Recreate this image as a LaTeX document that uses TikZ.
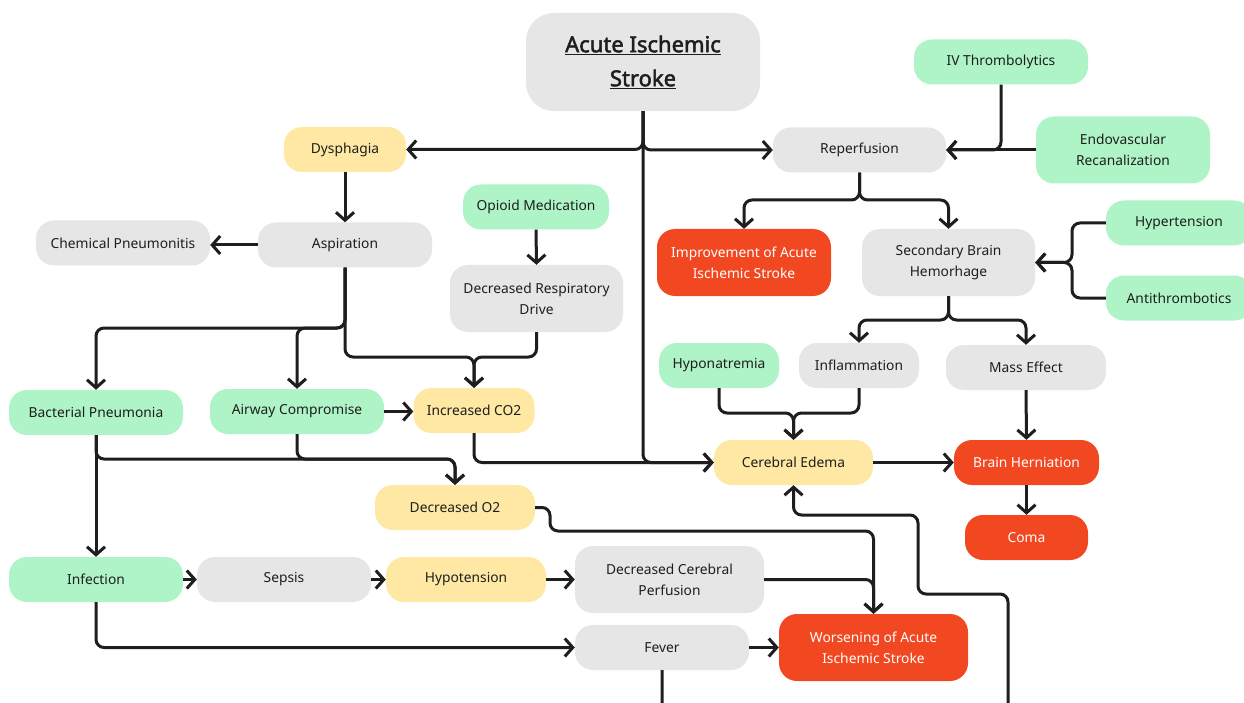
\documentclass[tikz,border=0pt]{standalone}
\usepackage{fontspec}
\setmainfont{Noto Sans}[AutoFakeBold=2.2]
\usetikzlibrary{arrows.meta}
\definecolor{cgray}{HTML}{E6E6E6}
\definecolor{cgreen}{HTML}{AFF4C6}
\definecolor{cyellow}{HTML}{FFE8A3}
\definecolor{cred}{HTML}{F24822}
\definecolor{ink}{HTML}{1E1E1E}
\tikzset{
  box/.style={rounded corners=18pt, inner sep=0pt, align=center, text=ink,
    font=\fontsize{13.8}{21}\selectfont},
  gbox/.style={box, fill=cgray},
  grbox/.style={box, fill=cgreen},
  ybox/.style={box, fill=cyellow},
  rbox/.style={box, fill=cred, text=white},
  arr/.style={draw=ink, line width=3pt, rounded corners=8pt,
    -{Straight Barb[length=8pt,width=18pt,line width=3pt]}},
}
\newcommand{\ulin}[1]{\underline{#1}}
\begin{document}
\begin{tikzpicture}[x=1pt,y=-1pt]
\clip (0,0) rectangle (1244,703);
\fill[white] (0,0) rectangle (1244,703);
% nodes
\node[gbox, rounded corners=28pt, minimum width=234pt, minimum height=98pt,
  font=\fontsize{22}{34}\selectfont\bfseries] (title) at (643,62)
  {\ulin{Acute Ischemic}\\\ulin{Stroke}};
\node[ybox, minimum width=122pt, minimum height=45pt] (dys) at (345,149.5) {Dysphagia};
\node[gbox, minimum width=173pt, minimum height=45pt] (rep) at (859.5,150) {Reperfusion};
\node[grbox, minimum width=174pt, minimum height=45pt] (ivt) at (1001,62) {IV Thrombolytics};
\node[grbox, minimum width=174pt, minimum height=67pt] (endo) at (1123,150) {Endovascular\\Recanalization};
\node[gbox, minimum width=174pt, minimum height=45pt] (chem) at (123,243) {Chemical Pneumonitis};
\node[gbox, minimum width=174pt, minimum height=45pt] (asp) at (345,245) {Aspiration};
\node[grbox, minimum width=146pt, minimum height=45pt] (opi) at (536,207) {Opioid Medication};
\node[gbox, minimum width=173pt, minimum height=67pt] (resp) at (536.5,298.5) {Decreased Respiratory\\Drive};
\node[rbox, minimum width=174pt, minimum height=67pt] (imp) at (744,262.5) {Improvement of Acute\\Ischemic Stroke};
\node[gbox, minimum width=173pt, minimum height=67pt] (sbh) at (948.5,262.5) {Secondary Brain\\Hemorhage};
\node[grbox, minimum width=146pt, minimum height=45pt] (hyp) at (1179,223) {Hypertension};
\node[grbox, minimum width=146pt, minimum height=45pt] (anti) at (1179,298) {Antithrombotics};
\node[grbox, minimum width=120pt, minimum height=45pt] (hypo) at (719,365.5) {Hyponatremia};
\node[gbox, minimum width=120pt, minimum height=45pt] (infl) at (859,365.5) {Inflammation};
\node[gbox, minimum width=160pt, minimum height=45pt] (mass) at (1026,367.5) {Mass Effect};
\node[grbox, minimum width=174pt, minimum height=45pt] (bact) at (96,412.5) {Bacterial Pneumonia};
\node[grbox, minimum width=174pt, minimum height=45pt] (air) at (297,411.5) {Airway Compromise};
\node[ybox, minimum width=121pt, minimum height=45pt] (co2) at (474,410.5) {Increased CO2};
\node[ybox, minimum width=159pt, minimum height=45pt] (ede) at (793.5,462.5) {Cerebral Edema};
\node[rbox, minimum width=145pt, minimum height=45pt] (hern) at (1026.5,462.5) {Brain Herniation};
\node[rbox, minimum width=123pt, minimum height=45pt] (coma) at (1026.5,537.5) {Coma};
\node[ybox, minimum width=160pt, minimum height=45pt] (o2) at (455,507.5) {Decreased O2};
\node[grbox, minimum width=174pt, minimum height=45pt] (inf) at (96,579.5) {Infection};
\node[gbox, minimum width=174pt, minimum height=45pt] (sep) at (284,579.5) {Sepsis};
\node[ybox, minimum width=160pt, minimum height=45pt] (hypot) at (466,579.5) {Hypotension};
\node[gbox, minimum width=189pt, minimum height=67pt] (dcp) at (669.5,579.5) {Decreased Cerebral\\Perfusion};
\node[gbox, minimum width=174pt, minimum height=45pt] (fev) at (662,647.5) {Fever};
\node[rbox, minimum width=189pt, minimum height=67pt] (wor) at (873.5,647.5) {Worsening of Acute\\Ischemic Stroke};
% junction coordinates
\coordinate (jA) at (345,328);
\coordinate (jC) at (345,357);
\coordinate (jR) at (536.5,357);
\coordinate (jRep) at (859.5,200);
\coordinate (jH) at (1072,262.5);
\coordinate (jS) at (948.5,320);
\coordinate (jHy) at (719,413);
\coordinate (jIn) at (859,413);
\coordinate (jB) at (96,459);
\coordinate (jAir) at (297,459);
\coordinate (jO1) at (550,507.5);
\coordinate (jO2) at (550,531);
\coordinate (f1) at (662,730);
\coordinate (f2) at (1008,730);
\coordinate (f3) at (1008,594);
\coordinate (f4) at (918,594);
\coordinate (f5) at (918,515);
\coordinate (f6) at (793.5,515);
% edges
\draw[arr] (title.south) |- (dys.east);
\draw[arr] (title.south) |- (rep.west);
\draw[arr] (title.south) |- (ede.west);
\draw[arr] (ivt.south) |- (rep.east);
\draw[arr] (endo.west) -- (rep.east);
\draw[arr] (dys.south) -- (asp.north);
\draw[arr] (asp.west) -- (chem.east |- asp.west);
\draw[arr] (asp.south) -- (jA) -| (bact.north);
\draw[arr] (asp.south) -- (jA) -| (air.north);
\draw[arr] (asp.south) -- (jC) -| (co2.north);
\draw[arr] (opi.south) -- (resp.north);
\draw[arr] (resp.south) -- (jR) -| (co2.north);
\draw[arr] (rep.south) -- (jRep) -| (imp.north);
\draw[arr] (rep.south) -- (jRep) -| (sbh.north);
\draw[arr] (hyp.west) -| (jH) -- (sbh.east);
\draw[arr] (anti.west) -| (jH) -- (sbh.east);
\draw[arr] (sbh.south) -- (jS) -| (infl.north);
\draw[arr] (sbh.south) -- (jS) -| (mass.north);
\draw[arr] (hypo.south) -- (jHy) -| (ede.north);
\draw[arr] (infl.south) -- (jIn) -| (ede.north);
\draw[arr] (mass.south) -- (hern.north);
\draw[arr] (ede.east) -- (hern.west);
\draw[arr] (hern.south) -- (coma.north);
\draw[arr] (air.east) -- (co2.west |- air.east);
\draw[arr] (co2.south) |- (ede.west);
\draw[arr] (bact.south) -- (jB) -| (o2.north);
\draw[arr] (air.south) -- (jAir) -| (o2.north);
\draw[arr] (bact.south) -- (inf.north);
\draw[arr] (o2.east) -- (jO1) -- (jO2) -| (wor.north);
\draw[arr] (dcp.east) -| (wor.north);
\draw[arr] (inf.east) -- (sep.west);
\draw[arr] (sep.east) -- (hypot.west);
\draw[arr] (hypot.east) -- (dcp.west);
\draw[arr] (inf.south) |- (fev.west);
\draw[arr] (fev.east) -- (wor.west);
\draw[arr] (fev.south) -- (f1) -- (f2) -- (f3) -- (f4) -- (f5) -- (f6) -- (ede.south);
\end{tikzpicture}
\end{document}
